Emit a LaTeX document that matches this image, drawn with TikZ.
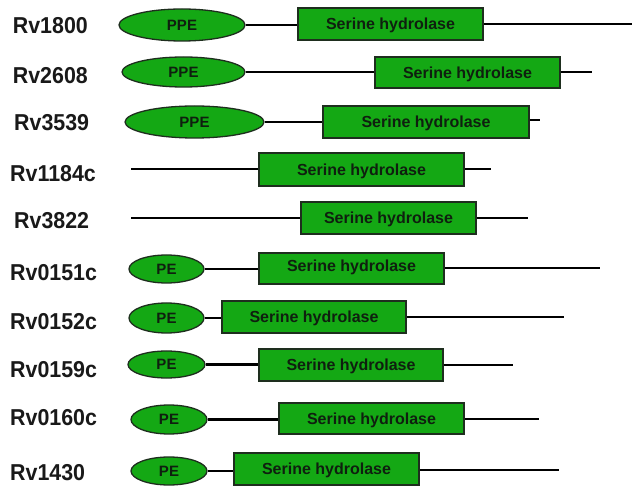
\documentclass[tikz,border=0pt]{standalone}
\usepackage{fontspec}
\setmainfont{Liberation Sans}
\newfontfamily\labfont{Liberation Sans}[FakeStretch=0.93]
\usetikzlibrary{shapes.geometric}
\definecolor{dgreen}{HTML}{14A814}
\definecolor{edgec}{HTML}{1E2E1E}
\definecolor{txtc}{HTML}{0F1F0F}
\tikzset{
  lab/.style={anchor=base west, inner sep=0pt, font=\labfont\fontsize{23}{26}\selectfont\bfseries, text=black!90},
  dom/.style={ellipse, draw=edgec, fill=dgreen, line width=1.3pt, inner sep=0pt, text depth=0pt, text=txtc, font=\fontsize{15}{17}\selectfont\bfseries},
  hyd/.style={rectangle, draw=edgec, fill=dgreen, line width=1.5pt, inner sep=0pt, text depth=0pt, minimum height=32pt, text=txtc, font=\fontsize{16}{18}\selectfont\bfseries},
  link/.style={line width=2.4pt, black},
}
\begin{document}
\begin{tikzpicture}[x=1pt,y=-1pt]
\useasboundingbox (0,0) rectangle (632,486);
\fill[white] (0,0) rectangle (632,486);

% Row 1
\node[lab] (l1) at (12.7,34) {Rv1800};
\node[dom, minimum width=126pt, minimum height=32pt] (e1) at (182,25) {PPE};
\node[hyd, minimum width=185pt] (b1) at (390.5,24) {Serine hydrolase};
\coordinate (t1) at (632,24);
\draw[link] (e1.east) -- (e1.east -| b1.west);
\draw[link] (b1.east |- t1) -- (t1);

% Row 2
\node[lab] (l2) at (12.7,83.3) {Rv2608};
\node[dom, minimum width=123pt, minimum height=30pt] (e2) at (183.5,72) {PPE};
\node[hyd, minimum width=185pt, minimum height=31pt] (b2) at (467.5,72.5) {Serine hydrolase};
\coordinate (t2) at (592,72);
\draw[link] (e2.east) -- (e2.east -| b2.west);
\draw[link] (b2.east |- t2) -- (t2);

% Row 3
\node[lab] (l3) at (14,130.7) {Rv3539};
\node[dom, minimum width=139pt, minimum height=32pt] (e3) at (194.5,122) {PPE};
\node[hyd, minimum width=206pt] (b3) at (426,122) {Serine hydrolase};
\coordinate (t3) at (540,120);
\draw[link] (e3.east) -- (e3.east -| b3.west);
\draw[link] (b3.east |- t3) -- (t3);

% Row 4
\node[lab] (l4) at (10,181.7) {Rv1184c};
\node[hyd, minimum width=205pt, minimum height=33pt] (b4) at (361.5,169.5) {Serine hydrolase};
\coordinate (s4) at (131,169);
\coordinate (t4) at (491,169);
\draw[link] (s4) -- (s4 -| b4.west);
\draw[link] (b4.east |- t4) -- (t4);

% Row 5
\node[lab] (l5) at (14,228.3) {Rv3822};
\node[hyd, minimum width=175pt] (b5) at (388.5,218) {Serine hydrolase};
\coordinate (s5) at (131,218);
\coordinate (t5) at (528,218);
\draw[link] (s5) -- (s5 -| b5.west);
\draw[link] (b5.east |- t5) -- (t5);

% Row 6
\node[lab] (l6) at (10,280.7) {Rv0151c};
\node[dom, minimum width=75pt, minimum height=28pt] (e6) at (166.5,269) {PE};
\node[hyd, minimum width=185pt, minimum height=31pt] (b6) at (351.5,268.5) {\raisebox{5pt}{Serine hydrolase}};
\coordinate (t6) at (600,268);
\draw[link] (e6.east) -- (e6.east -| b6.west);
\draw[link] (b6.east |- t6) -- (t6);

% Row 7
\node[lab] (l7) at (10,330) {Rv0152c};
\node[dom, minimum width=75pt, minimum height=30pt] (e7) at (166.5,318) {PE};
\node[hyd, minimum width=184pt] (b7) at (314,317) {Serine hydrolase};
\coordinate (t7) at (564,317);
\draw[link] (e7.east) -- (e7.east -| b7.west);
\draw[link] (b7.east |- t7) -- (t7);

% Row 8
\node[lab] (l8) at (10,377.7) {Rv0159c};
\node[dom, minimum width=77pt, minimum height=27pt] (e8) at (166.5,364.5) {PE};
\node[hyd, minimum width=184pt] (b8) at (351,365) {Serine hydrolase};
\coordinate (t8) at (513,365);
\draw[link] (e8.east) -- (e8.east -| b8.west);
\draw[link] (b8.east |- t8) -- (t8);

% Row 9
\node[lab] (l9) at (10,425.7) {Rv0160c};
\node[dom, minimum width=76pt, minimum height=29pt] (e9) at (169,419.5) {PE};
\node[hyd, minimum width=185pt, minimum height=31pt] (b9) at (371.5,418.5) {Serine hydrolase};
\coordinate (t9) at (539,419);
\draw[link] (e9.east) -- (e9.east -| b9.west);
\draw[link] (b9.east |- t9) -- (t9);

% Row 10
\node[lab] (l10) at (10,480) {Rv1430};
\node[dom, minimum width=76pt, minimum height=28pt] (e10) at (169,471) {PE};
\node[hyd, minimum width=185pt, minimum height=32pt] (b10) at (326.5,469) {Serine hydrolase};
\coordinate (t10) at (559,470);
\draw[link] (e10.east) -- (e10.east -| b10.west);
\draw[link] (b10.east |- t10) -- (t10);
\end{tikzpicture}
\end{document}
